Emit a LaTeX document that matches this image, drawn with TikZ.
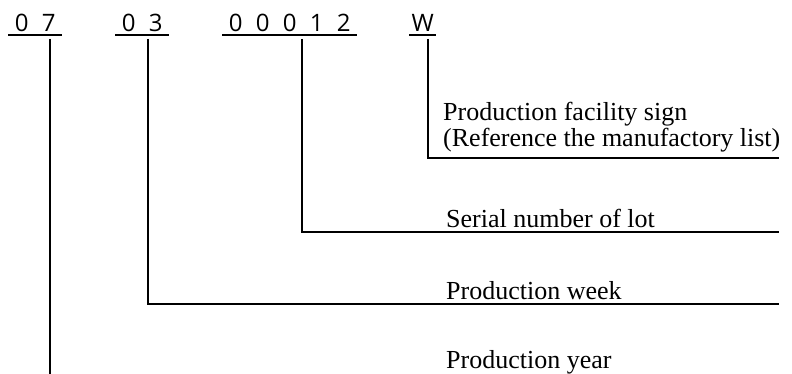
\documentclass[tikz,border=0pt]{standalone}
\usepackage{fontspec}
\setmainfont{Liberation Serif}
\newfontfamily\digitfont{Open Sans}
\newcommand\dcell[1]{\makebox[27pt]{#1}}
\begin{document}
\begin{tikzpicture}[x=1pt,y=-1pt,
  code/.style={inner sep=0pt,anchor=base west,font=\digitfont\fontsize{24}{28}\selectfont},
  lbl/.style={inner sep=0pt,anchor=base west,font=\fontsize{26}{29}\selectfont},
  uline/.style={line width=1.4pt},
  conn/.style={line width=1.4pt}]
\useasboundingbox (0,0) rectangle (792,374);
% code groups
\node[code] (g07) at (8,32) {\dcell{0}\dcell{7}};
\node[code] (g03) at (115,32) {\dcell{0}\dcell{3}};
\node[code] (g12) at (222,32) {\dcell{0}\dcell{0}\dcell{0}\dcell{1}\dcell{2}};
\node[code] (gW) at (409,32) {\dcell{W}};
\foreach \g in {g07,g03,g12,gW}
  \draw[uline] ([yshift=-3pt]\g.base west) -- ([yshift=-3pt]\g.base east);
% connector start points
\coordinate (p07) at (50,39);
\coordinate (p03) at (148,39);
\coordinate (p12) at (302,39);
\coordinate (pW) at (428,39);
% end points
\coordinate (eW) at (779,158);
\coordinate (e12) at (779,232);
\coordinate (e03) at (779,304);
\coordinate (e07) at (50,374);
% labels
\node[lbl] (lW1) at (443,121) {Production facility sign};
\node[lbl] (lW2) at (443,147) {(Reference the manufactory list)};
\node[lbl] (l12) at (446,227) {Serial number of lot};
\node[lbl] (l03) at (446,299) {Production week};
\node[lbl] (l07) at (446,368) {Production year};
% connectors
\draw[conn] (pW) |- (eW);
\draw[conn] (p12) |- (e12);
\draw[conn] (p03) |- (e03);
\draw[conn] (p07) -- (e07);
\end{tikzpicture}
\end{document}
